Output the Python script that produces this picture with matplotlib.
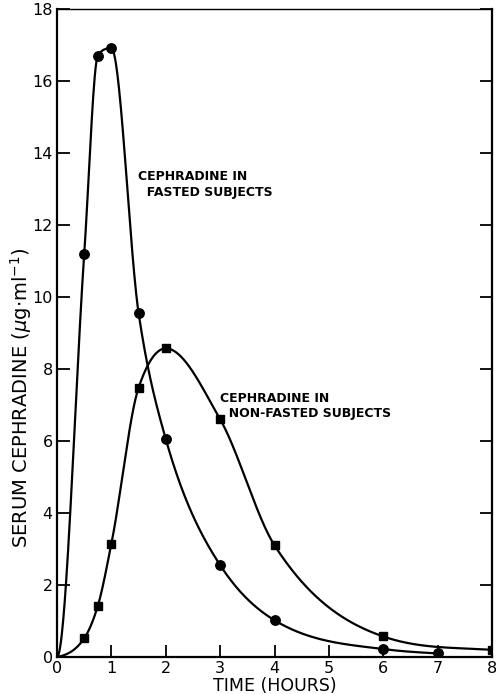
import matplotlib
matplotlib.use('Agg')
import matplotlib.pyplot as plt
import numpy as np

# serum levels, fasted subjects (circles)
t_fasted = [0, 0.5, 0.75, 1.0, 1.5, 2.0, 3.0, 4.0, 6.0, 7.0]
c_fasted = [0, 11.2, 16.7, 16.9, 9.55, 6.05, 2.55, 1.02, 0.22, 0.1]
# serum levels, non-fasted subjects (squares)
t_fed = [0, 0.5, 0.75, 1.0, 1.5, 2.0, 3.0, 4.0, 6.0, 8.0]
c_fed = [0, 0.52, 1.42, 3.15, 7.48, 8.57, 6.6, 3.1, 0.57, 0.2]

x_ticks = [0, 1, 2, 3, 4, 5, 6, 7, 8]
y_ticks = [0, 2, 4, 6, 8, 10, 12, 14, 16, 18]


def smooth_curve(x, y, xs, start_slope=0.0, end_slope=None):
    # cubic hermite through the points; interior slopes blend the local
    # parabola with the pchip harmonic mean, flat at turning points
    x = np.asarray(x, float)
    y = np.asarray(y, float)
    h = np.diff(x)
    d = np.diff(y) / h
    m = np.zeros_like(y)
    for k in range(1, len(x) - 1):
        if d[k - 1] * d[k] <= 0:
            continue
        para = (h[k] * d[k - 1] + h[k - 1] * d[k]) / (h[k - 1] + h[k])
        w1 = 2 * h[k] + h[k - 1]
        w2 = h[k] + 2 * h[k - 1]
        harm = (w1 + w2) / (w1 / d[k - 1] + w2 / d[k])
        m[k] = 0.5 * (para + harm)
        lim = 3 * min(abs(d[k - 1]), abs(d[k]))
        m[k] = np.sign(m[k]) * min(abs(m[k]), lim)
    m[0] = start_slope
    m[-1] = d[-1] if end_slope is None else end_slope
    idx = np.clip(np.searchsorted(x, xs) - 1, 0, len(x) - 2)
    hk = h[idx]
    s = (xs - x[idx]) / hk
    h00 = 2 * s**3 - 3 * s**2 + 1
    h10 = s**3 - 2 * s**2 + s
    h01 = -2 * s**3 + 3 * s**2
    h11 = s**3 - s**2
    return h00 * y[idx] + h10 * hk * m[idx] + h01 * y[idx + 1] + h11 * hk * m[idx + 1]


fig = plt.figure(figsize=(4.96, 6.94), dpi=100)
ax = fig.add_axes([0.115, 0.0533, 0.877, 0.934])

xs1 = np.linspace(t_fasted[0], t_fasted[-1], 800)
xs2 = np.linspace(t_fed[0], t_fed[-1], 800)
ax.plot(xs1, smooth_curve(t_fasted, c_fasted, xs1, end_slope=-0.08),
        color='black', lw=1.6)
ax.plot(xs2, smooth_curve(t_fed, c_fed, xs2, start_slope=0.3, end_slope=-0.1),
        color='black', lw=1.6)
ax.plot(t_fasted[1:], c_fasted[1:], 'o', color='black', ms=6.8)
ax.plot(t_fed[1:], c_fed[1:], 's', color='black', ms=5.2)

ax.set_xlim(0, 8)
ax.set_ylim(0, 18)
ax.set_xticks(x_ticks)
ax.set_yticks(y_ticks)
ax.tick_params(direction='in', length=9, width=1.3, labelsize=11.5,
               right=True, top=False, pad=3)
for side in ['left', 'bottom', 'right']:
    ax.spines[side].set_linewidth(1.6)
ax.spines['top'].set_linewidth(1.0)

ax.set_xlabel('TIME (HOURS)', fontsize=12.5)
ax.xaxis.set_label_coords(0.50, -0.031)
ax.set_ylabel(r'SERUM CEPHRADINE ($\mu$g$\cdot$ml$^{-1}$)', fontsize=14)
ax.yaxis.set_label_coords(-0.052, 0.40)

ax.text(1.48, 13.52, 'CEPHRADINE IN\n  FASTED SUBJECTS', fontsize=9,
        fontweight='bold', va='top', linespacing=1.25)
ax.text(3.0, 7.37, 'CEPHRADINE IN\n  NON-FASTED SUBJECTS', fontsize=9,
        fontweight='bold', va='top', linespacing=1.25)

fig.savefig('out.png', dpi=100)
